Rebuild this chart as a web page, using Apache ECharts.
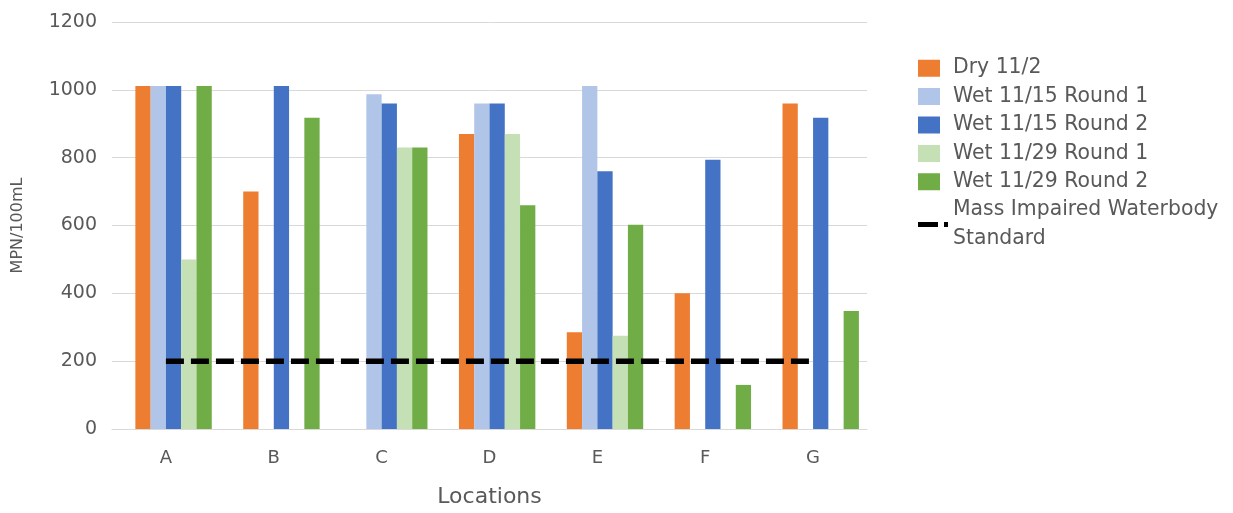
<!DOCTYPE html>
<html>
<head>
<meta charset="utf-8">
<script src="https://cdn.jsdelivr.net/npm/echarts@6/dist/echarts.min.js"></script>
<style>
  html, body { margin: 0; padding: 0; background: #fff; }
  #chart { width: 1233px; height: 513px; }
</style>
</head>
<body>
<div id="chart"></div>
<script>
// Sampling locations and bacteria counts (MPN/100mL)
const locations = ['A', 'B', 'C', 'D', 'E', 'F', 'G'];
const dry_11_2       = [1011, 700, null, 870, 285, 400, 960];
const wet_11_15_r1   = [1011, null, 987, 960, 1011, null, null];
const wet_11_15_r2   = [1011, 1011, 960, 960, 760, 794, 918];
const wet_11_29_r1   = [500, null, 830, 870, 275, null, null];
const wet_11_29_r2   = [1011, 918, 830, 660, 602, 130, 348];
const standardValue  = [200, 200, 200, 200, 200, 200, 200];
const yTicks = { min: 0, max: 1200, step: 200 };

const FONT = '"DejaVu Sans", "Open Sans", sans-serif';
const TXT = '#595959';
const GRIDC = '#D9D9D9';

const barNames = ['Dry 11/2', 'Wet 11/15 Round 1', 'Wet 11/15 Round 2', 'Wet 11/29 Round 1', 'Wet 11/29 Round 2'];
const barData = [dry_11_2, wet_11_15_r1, wet_11_15_r2, wet_11_29_r1, wet_11_29_r2];
const barColors = ['#ED7D31', '#B0C5E8', '#4472C4', '#C5E0B4', '#70AD47'];
const lineName = 'Mass Impaired Waterbody Standard';

// legend swatches: square on the left of a 30-wide slot; dash + dot for the line
const squareIcon = 'path://M0,1h22v17h-22zM30,0l0,19';
const dashIcon = 'path://M0,0h20v5h-20zM26,0h4v5h-4z';

const series = [
  // empty leading slot in each category group
  { name: '_slot', type: 'bar', data: locations.map(() => null), barGap: '0%', barCategoryGap: '15%', silent: true }
];
barNames.forEach((n, i) => {
  series.push({
    name: n, type: 'bar', data: barData[i],
    barGap: '0%', barCategoryGap: '15%',
    itemStyle: { color: barColors[i] }
  });
});
series.push({
  name: lineName, type: 'line', data: standardValue,
  symbol: 'none', z: 5,
  lineStyle: { color: '#000', width: 5.5, type: [18, 7], cap: 'butt' },
  itemStyle: { color: '#000' }
});

const chart = echarts.init(document.getElementById('chart'), null, { renderer: 'canvas' });
chart.setOption({
  animation: false,
  backgroundColor: '#fff',
  textStyle: { fontFamily: FONT },
  grid: { left: 112, right: 366, top: 22, bottom: 83, containLabel: false },
  legend: {
    orient: 'vertical',
    left: 913, top: 49,
    padding: 5,
    itemWidth: 30, itemHeight: 19, itemGap: 0,
    symbolKeepAspect: true,
    selectedMode: false,
    textStyle: { color: TXT, fontSize: 20.4, fontFamily: FONT, lineHeight: 28.4 },
    formatter: name => name === lineName ? 'Mass Impaired Waterbody\nStandard' : name,
    data: barNames.map(n => ({ name: n, icon: squareIcon })).concat([
      { name: lineName, icon: dashIcon }
    ])
  },
  xAxis: {
    type: 'category', data: locations,
    name: 'Locations', nameLocation: 'middle', nameGap: 57,
    nameTextStyle: { color: TXT, fontSize: 22, fontFamily: FONT },
    axisLine: { lineStyle: { color: GRIDC, width: 1 } },
    axisTick: { show: false },
    axisLabel: { color: TXT, fontSize: 18, fontFamily: FONT, margin: 20 }
  },
  yAxis: {
    type: 'value', min: yTicks.min, max: yTicks.max, interval: yTicks.step,
    name: 'MPN/100mL', nameLocation: 'middle', nameGap: 86, nameRotate: 90,
    nameTextStyle: { color: TXT, fontSize: 16, fontFamily: FONT },
    axisLine: { show: false },
    axisTick: { show: false },
    axisLabel: { color: TXT, fontSize: 19, fontFamily: FONT, margin: 15, formatter: v => String(v) },
    splitLine: { lineStyle: { color: GRIDC, width: 1 } }
  },
  series: series
});
</script>
</body>
</html>
